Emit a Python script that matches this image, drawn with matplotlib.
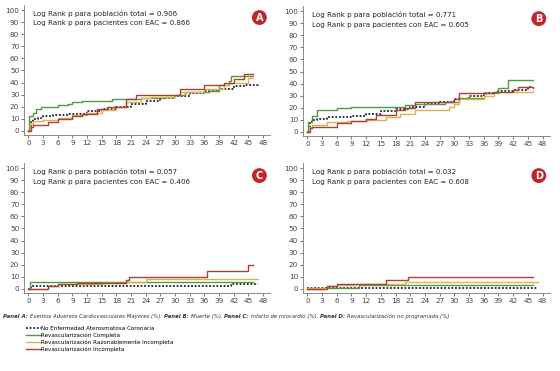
import numpy as np
import matplotlib.pyplot as plt

# meses y % acumulado
series_names = ["No Enfermedad Aterosmatosa Coronaria", "Revascularización Completa",
                "Revascularización Razonablemente Incompleta", "Revascularización Incompleta"]

# Panel A: MACE
a_t_no = [0, 0.5, 1, 2, 3, 5, 8, 12, 15, 18, 21, 24, 27, 30, 33, 36, 39, 42, 44, 47]
a_y_no = [0, 8, 10, 11, 12, 13, 14, 16, 18, 20, 22, 25, 27, 29, 31, 33, 35, 37, 38, 39]
a_t_comp = [0, 0.2, 1, 1.5, 2.5, 6, 8, 9, 11, 17, 20, 23, 28, 30, 32, 37, 39, 41, 41.5, 46]
a_y_comp = [0, 12, 15, 18, 20, 21, 22, 24, 25, 26, 26, 27, 28, 30, 32, 33, 38, 41, 45, 45]
a_t_raz = [0, 0.3, 1, 3, 6, 9, 12, 15, 18, 20, 23, 25, 30, 31, 36, 40, 41, 45, 46]
a_y_raz = [0, 6, 8, 9, 11, 13, 15, 17, 20, 24, 27, 28, 30, 32, 35, 38, 40, 44, 44]
a_t_inc = [0, 0.5, 1, 4, 6, 9, 11, 14, 16, 20, 22, 31, 36, 40, 42, 44, 46]
a_y_inc = [0, 3, 5, 7, 10, 12, 14, 18, 20, 26, 30, 35, 38, 40, 43, 47, 47]

# Panel B: Muerte
b_t_no = [0, 0.5, 1, 2, 4, 9, 12, 15, 18, 21, 24, 27, 30, 33, 36, 39, 42, 45, 46]
b_y_no = [0, 8, 10, 11, 12, 13, 15, 17, 19, 21, 23, 25, 27, 30, 32, 34, 35, 37, 37]
b_t_comp = [0, 0.2, 1, 2, 6, 9, 20, 22, 28, 31, 36, 39, 41, 46]
b_y_comp = [0, 8, 13, 18, 20, 21, 22, 23, 25, 28, 32, 36, 43, 43]
b_t_raz = [0, 0.3, 1, 4, 8, 12, 16, 19, 22, 29, 30, 31, 36, 38, 46]
b_y_raz = [0, 4, 6, 8, 9, 10, 12, 15, 18, 21, 23, 27, 30, 33, 34]
b_t_inc = [0, 0.5, 1, 6, 9, 12, 14, 18, 20, 22, 30, 31, 38, 42, 43, 46]
b_y_inc = [0, 3, 4, 7, 9, 11, 14, 18, 20, 25, 27, 32, 33, 35, 37, 36]

# Panel C: Infarto
c_t_no = [0, 0.5, 41, 41.5, 47]
c_y_no = [0, 2, 2, 4, 4]
c_t_comp = [0, 0.3, 46]
c_y_comp = [0, 5.5, 5.5]
c_t_raz = [0, 4, 6, 15, 20, 24, 47]
c_y_raz = [0, 2, 4, 5, 6, 8, 8]
c_t_inc = [0, 4, 6, 10, 20, 20.5, 36.5, 45, 46]
c_y_inc = [0, 2, 4, 5, 7, 10, 15, 20, 20]

# Panel D: Revascularización no programada
d_t_no = [0, 47]
d_y_no = [0.5, 0.5]
d_t_comp = [0, 3, 10.5, 46]
d_y_comp = [0, 1, 3, 3]
d_t_raz = [0, 4, 6, 10, 20, 47]
d_y_raz = [1, 2, 3, 4, 6, 6]
d_t_inc = [0, 4, 6, 16, 20.5, 46]
d_y_inc = [0, 2, 4, 7, 10, 10]

panels = [
    ("A", "0.906", "0.866", [(a_t_no, a_y_no), (a_t_comp, a_y_comp), (a_t_raz, a_y_raz), (a_t_inc, a_y_inc)]),
    ("B", "0.771", "0.605", [(b_t_no, b_y_no), (b_t_comp, b_y_comp), (b_t_raz, b_y_raz), (b_t_inc, b_y_inc)]),
    ("C", "0.057", "0.406", [(c_t_no, c_y_no), (c_t_comp, c_y_comp), (c_t_raz, c_y_raz), (c_t_inc, c_y_inc)]),
    ("D", "0.032", "0.608", [(d_t_no, d_y_no), (d_t_comp, d_y_comp), (d_t_raz, d_y_raz), (d_t_inc, d_y_inc)]),
]

colors = ["#1c1c3a", "#4f9a45", "#e2b04a", "#a8433a"]
styles = [(0, (1, 1)), "-", "-", "-"]
widths = [1.3, 1.0, 1.0, 1.0]

positions = [
    [0.043, 0.636, 0.440, 0.350],
    [0.541, 0.633, 0.441, 0.350],
    [0.043, 0.210, 0.440, 0.350],
    [0.541, 0.210, 0.441, 0.350],
]

fig = plt.figure(figsize=(5.6, 3.71), dpi=100)

handles = []
for pos, (letter, p1, p2, data) in zip(positions, panels):
    ax = fig.add_axes(pos)
    handles = []
    for (t, y), c, ls, lw in zip(data, colors, styles, widths):
        h, = ax.step(t, y, where="post", color=c, linestyle=ls, linewidth=lw)
        handles.append(h)
    ax.set_xlim(-0.9, 49.5)
    ax.set_ylim(-3.5, 104)
    ax.set_xticks(np.arange(0, 49, 3))
    ax.set_yticks(np.arange(0, 101, 10))
    for s in ["top", "right"]:
        ax.spines[s].set_visible(False)
    for s in ["left", "bottom"]:
        ax.spines[s].set_color("#777777")
        ax.spines[s].set_linewidth(0.6)
    ax.tick_params(labelsize=5.2, colors="#444444", length=2, width=0.5, pad=1.5)
    ax.text(0.035, 0.965, f"Log Rank p para población total = {p1}\nLog Rank p para pacientes con EAC = {p2}",
            transform=ax.transAxes, fontsize=5.1, va="top", ha="left", linespacing=1.75, color="#222222")
    ax.text(0.955, 0.905, letter, transform=ax.transAxes, fontsize=7, fontweight="bold", color="white",
            ha="center", va="center",
            bbox=dict(boxstyle="circle,pad=0.25", fc="#c0272d", ec="none"))

# pie de figura: partes en negrita/normal encadenadas
parts = [("Panel A: ", "bold"), ("Eventos Adversos Cardiovasculares Mayores (%). ", "normal"),
         ("Panel B: ", "bold"), ("Muerte (%). ", "normal"),
         ("Panel C: ", "bold"), ("Infarto de miocardio (%). ", "normal"),
         ("Panel D: ", "bold"), ("Revascularización no programada (%)", "normal")]
cap_fs = 3.9
prev = fig.text(0.006, 0.141, parts[0][0], fontsize=cap_fs, style="italic", fontweight=parts[0][1],
                color="#333333", va="bottom")
for txt, w in parts[1:]:
    prev = fig.add_artist(plt.Annotation(txt, xy=(1, 0), xycoords=prev, fontsize=cap_fs, style="italic",
                                         fontweight=w, color="#333333", va="bottom", ha="left",
                                         annotation_clip=False))

fig.legend(handles, series_names, loc="upper left", bbox_to_anchor=(0.04, 0.13), frameon=False,
           fontsize=4.1, handlelength=2.6, labelspacing=0.25, handletextpad=0.1, borderpad=0.1)

fig.savefig("out.png", dpi=100, facecolor="white")
